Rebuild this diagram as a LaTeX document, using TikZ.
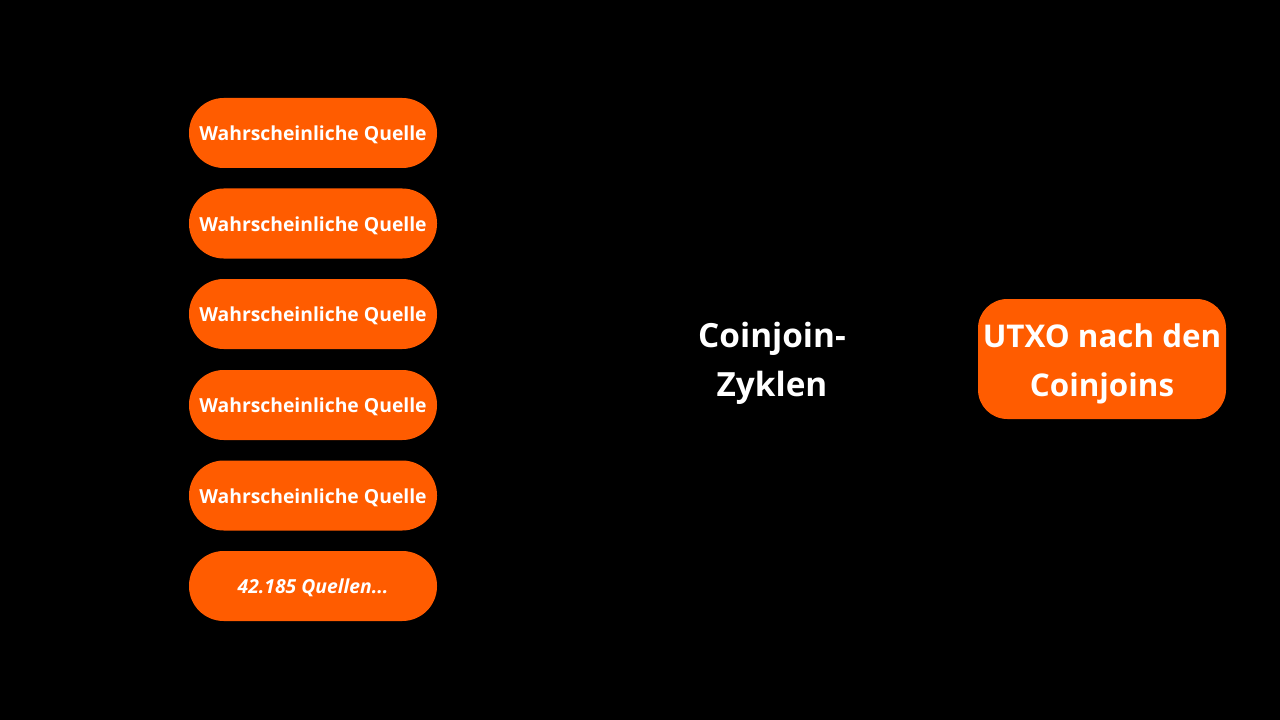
\documentclass[tikz,border=0pt]{standalone}
\usepackage{fontspec}
\setmainfont{Open Sans}
\definecolor{org}{HTML}{FF5C00}
\begin{document}
\begin{tikzpicture}[x=0.75pt,y=-0.75pt,
  src/.style={fill=org,draw=none,rounded corners=26pt,minimum width=186pt,minimum height=52.5pt,inner sep=0pt},
  srct/.style={text=white,font=\fontsize{14.5}{16}\selectfont\bfseries,inner sep=0pt,yshift=-1.5pt},
  big/.style={text=white,font=\fontsize{23.5}{36.5}\selectfont\bfseries,align=center,inner sep=0pt,yshift=-3.5pt}]
\fill[black] (0,0) rectangle (1280,720);
\useasboundingbox (0,0) rectangle (1280,720);
\node[src] (s1) at (313,133) {};
\node[srct] at (s1.center) {Wahrscheinliche Quelle};
\node[src] (s2) at (313,223.5) {};
\node[srct] at (s2.center) {Wahrscheinliche Quelle};
\node[src] (s3) at (313,314) {};
\node[srct] at (s3.center) {Wahrscheinliche Quelle};
\node[src] (s4) at (313,405) {};
\node[srct] at (s4.center) {Wahrscheinliche Quelle};
\node[src] (s5) at (313,495.5) {};
\node[srct] at (s5.center) {Wahrscheinliche Quelle};
\node[src] (s6) at (313,586) {};
\node[srct] at (s6.center) {\itshape 42.185 Quellen...};
\node[big,font=\fontsize{25}{36.5}\selectfont\bfseries] (cj) at (772,359) {Coinjoin-\\Zyklen};
\node[fill=org,rounded corners=22pt,minimum width=186pt,minimum height=90pt,inner sep=0pt] (ut) at (1102,359) {};
\node[big] (utt) at (ut.center) {UTXO nach den\\Coinjoins};
\end{tikzpicture}
\end{document}
